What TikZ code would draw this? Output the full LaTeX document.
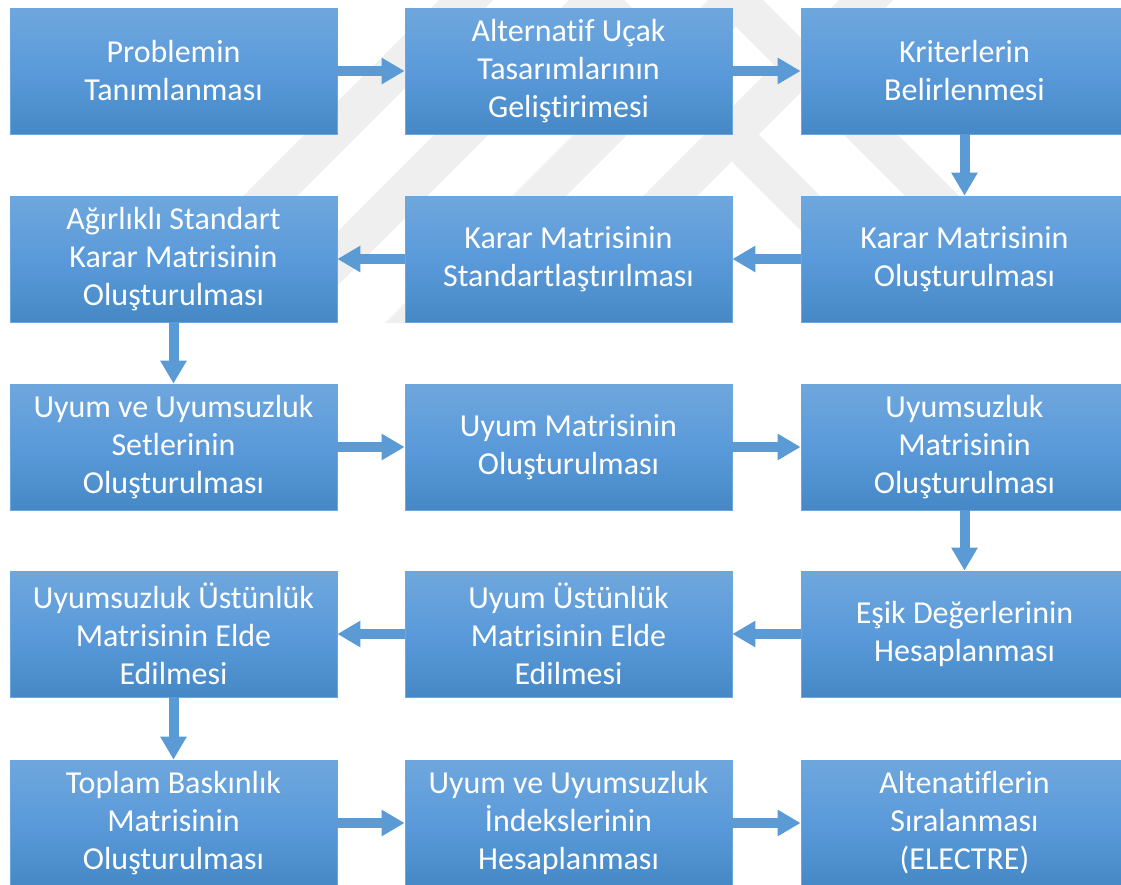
\documentclass[tikz,border=0pt]{standalone}
\usepackage{fontspec}
\setmainfont[Ligatures=NoCommon]{Carlito}
\usetikzlibrary{arrows.meta}
\definecolor{arrowc}{HTML}{5B9BD5}
\definecolor{boxedge}{HTML}{6BA6DE}
\definecolor{boxtop}{HTML}{6FA7DD}
\definecolor{boxmid}{HTML}{5A9ADA}
\definecolor{boxbot}{HTML}{4688C6}
\definecolor{wm}{HTML}{EFEFEF}
\begin{document}
\begin{tikzpicture}[x=1pt,y=-1pt,
  box/.style={minimum width=327pt, minimum height=126pt, inner sep=0pt,
    draw=boxedge, line width=0.8pt, top color=boxtop, bottom color=boxbot, middle color=boxmid,
    text=white, font=\fontsize{32}{38}\selectfont, align=center},
  conn/.style={draw=arrowc, line width=10pt, -{Triangle[length=23pt,width=25pt]}},
]
\useasboundingbox (0,0) rectangle (1121,884);
\clip (0,0) rectangle (1121,884);
% faint watermark
\begin{scope}
\clip (100,0) rectangle (1010,322);
\foreach \c in {270,400,539,670}{
  \fill[wm] (\c+296-27,-100) -- (\c+296+27,-100) -- (\c-224+27,420) -- (\c-224-27,420) -- cycle;
}
\foreach \c in {793,932}{
  \fill[wm] (\c-296-27,-100) -- (\c-296+27,-100) -- (\c+224+27,420) -- (\c+224-27,420) -- cycle;
}
\end{scope}
% boxes
\node[box] (a1) at (173.5,71) {Problemin\\Tanımlanması};
\node[box] (a2) at (568.5,71) {Alternatif Uçak\\Tasarımlarının\\Geliştirimesi};
\node[box] (a3) at (964.5,71) {Kriterlerin\\Belirlenmesi};
\node[box] (b3) at (964.5,259) {Karar Matrisinin\\Oluşturulması};
\node[box] (b2) at (568.5,259) {Karar Matrisinin\\Standartlaştırılması};
\node[box] (b1) at (173.5,259) {Ağırlıklı Standart\\Karar Matrisinin\\Oluşturulması};
\node[box] (c1) at (173.5,447) {Uyum ve Uyumsuzluk\\Setlerinin\\Oluşturulması};
\node[box] (c2) at (568.5,447) {Uyum Matrisinin\\Oluşturulması};
\node[box] (c3) at (964.5,447) {Uyumsuzluk\\Matrisinin\\Oluşturulması};
\node[box] (d3) at (964.5,634) {Eşik Değerlerinin\\Hesaplanması};
\node[box] (d2) at (568.5,634) {Uyum Üstünlük\\Matrisinin Elde\\Edilmesi};
\node[box] (d1) at (173.5,634) {Uyumsuzluk Üstünlük\\Matrisinin Elde\\Edilmesi};
\node[box] (e1) at (173.5,823) {Toplam Baskınlık\\Matrisinin\\Oluşturulması};
\node[box] (e2) at (568.5,823) {Uyum ve Uyumsuzluk\\İndekslerinin\\Hesaplanması};
\node[box] (e3) at (964.5,823) {Altenatiflerin\\Sıralanması\\(ELECTRE)};
% connectors
\draw[conn] (a1) -- (a2);
\draw[conn] (a2) -- (a3);
\draw[conn] (a3) -- (b3);
\draw[conn] (b3) -- (b2);
\draw[conn] (b2) -- (b1);
\draw[conn] (b1) -- (c1);
\draw[conn] (c1) -- (c2);
\draw[conn] (c2) -- (c3);
\draw[conn] (c3) -- (d3);
\draw[conn] (d3) -- (d2);
\draw[conn] (d2) -- (d1);
\draw[conn] (d1) -- (e1);
\draw[conn] (e1) -- (e2);
\draw[conn] (e2) -- (e3);
\end{tikzpicture}
\end{document}
